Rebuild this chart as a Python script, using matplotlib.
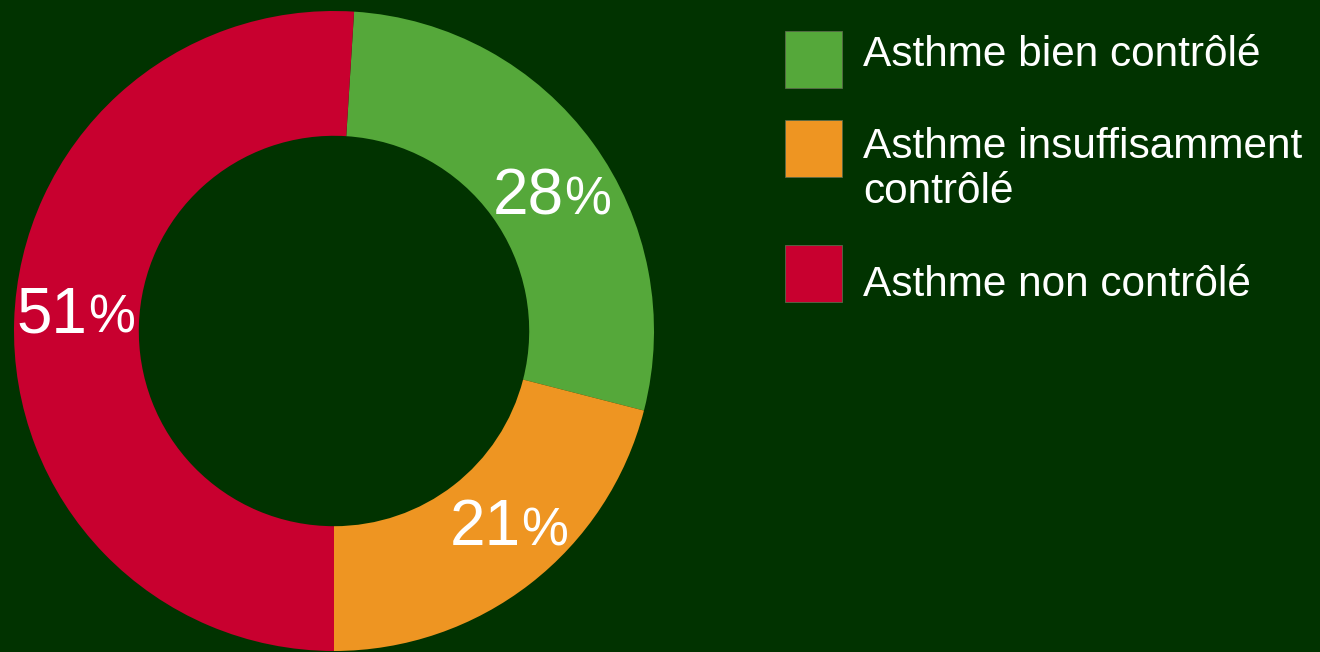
import numpy as np
import matplotlib
matplotlib.use("Agg")
import matplotlib.pyplot as plt
from matplotlib.patches import Rectangle
import matplotlib.transforms as mtransforms

categories = ["Asthme bien contrôlé", "Asthme insuffisamment\ncontrôlé", "Asthme non contrôlé"]
values = [28, 21, 51]
labels = ["28", "21", "51"]
label_angles = [32.6, -47.5, 175.3]
colors = ["#55A83A", "#EE9522", "#C8002F"]
bg = "#013300"

fig = plt.figure(figsize=(13.2, 6.52), dpi=100, facecolor=bg)
ax = fig.add_axes([14/1320, 1/652, 640/1320, 640/652])
ax.set_facecolor(bg)

start = -90 + (values[0] + values[1]) * 3.6
wedges, _ = ax.pie(values, colors=colors, startangle=start, counterclock=False,
                   radius=1.0, wedgeprops=dict(width=0.39, linewidth=0))
ax.set_xlim(-1, 1)
ax.set_ylim(-1, 1)
ax.set_aspect("equal")
ax.axis("off")

font = "Liberation Sans"
for lab, a in zip(labels, label_angles):
    ang = np.deg2rad(a)
    r = 0.81
    x, y = r * np.cos(ang), r * np.sin(ang)
    tr_d = ax.transData + mtransforms.ScaledTranslation(12/100, -23/100, fig.dpi_scale_trans)
    ax.text(x, y, lab, transform=tr_d, ha="right", va="baseline",
            fontsize=46, color="white", family=font)
    ax.text(x, y, "%", transform=tr_d, ha="left", va="baseline",
            fontsize=38, color="white", family=font)

# legend
sq_tops = [31, 120, 245]
text_base = [66, 158, 296]
for cat, col, top, tb in zip(categories, colors, sq_tops, text_base):
    fig.patches.append(Rectangle((785/1320, 1 - (top + 57)/652), 57/1320, 57/652,
                                 transform=fig.transFigure, facecolor=col,
                                 edgecolor="#5a6a4a", linewidth=0.6))
    lines = cat.split("\n")
    for i, line in enumerate(lines):
        fig.text(863/1320, 1 - (tb + i * 45)/652, line, fontsize=30.5, color="white",
                 family=font, ha="left", va="baseline")

fig.savefig("out.png", dpi=100, facecolor=bg)
